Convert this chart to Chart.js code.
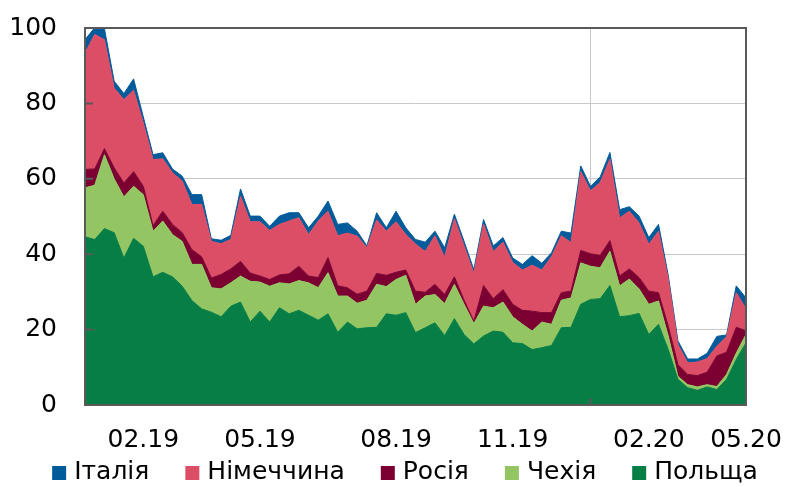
<!DOCTYPE html>
<html>
<head>
<meta charset="utf-8">
<script src="https://cdn.jsdelivr.net/npm/chart.js@4.4.1/dist/chart.umd.min.js"></script>
<style>
  body { margin: 0; background: #fff; }
  #wrap { width: 787px; height: 487px; }
</style>
</head>
<body>
<div id="wrap"><canvas id="myChart" width="787" height="487"></canvas></div>
<script>
// weekly shares, %, stacked from the bottom: Польща, Чехія, Росія, Німеччина, Італія
const poland = [44.6, 43.9, 46.8, 45.7, 39.0, 44.2, 42.1, 34.0, 35.2, 34.0,
  31.5, 27.7, 25.5, 24.6, 23.4, 26.2, 27.3, 22.0, 24.9, 22.0,
  25.8, 24.2, 25.1, 23.8, 22.5, 24.2, 19.3, 22.0, 20.2, 20.5,
  20.6, 24.2, 23.8, 24.5, 19.2, 20.5, 21.8, 18.4, 22.9, 18.7,
  16.2, 18.3, 19.6, 19.3, 16.5, 16.3, 14.7, 15.2, 15.8, 20.5,
  20.6, 26.7, 28.0, 28.2, 31.7, 23.4, 23.7, 24.3, 18.7, 21.4,
  14.7, 6.8, 4.6, 3.9, 4.8, 4.1, 6.8, 12.1, 16.5];
const czechia = [13.0, 14.4, 19.6, 14.3, 16.2, 13.8, 13.7, 12.1, 13.6, 11.2,
  11.9, 9.6, 11.8, 6.5, 7.4, 6.2, 6.9, 10.8, 7.7, 9.5,
  6.6, 7.9, 7.9, 8.6, 8.6, 10.9, 9.6, 6.9, 6.8, 7.3,
  11.4, 7.2, 9.5, 9.9, 7.5, 8.4, 7.5, 8.5, 9.1, 8.0,
  5.4, 7.9, 6.2, 8.0, 6.9, 5.1, 4.9, 6.8, 5.6, 7.3,
  7.8, 11.0, 8.8, 8.2, 9.1, 8.2, 9.7, 6.5, 8.0, 6.2,
  3.6, 0.8, 0.8, 0.9, 0.6, 0.8, 1.3, 1.7, 2.2];
const russia = [4.9, 4.3, 1.6, 2.9, 3.7, 3.9, 2.2, 1.5, 2.6, 2.7,
  2.3, 3.9, 2.0, 2.6, 3.8, 3.7, 3.9, 2.2, 1.6, 1.8,
  2.1, 2.7, 3.8, 1.8, 2.7, 4.0, 2.7, 2.2, 2.4, 2.4,
  2.9, 3.0, 1.9, 1.4, 3.5, 1.0, 2.7, 2.4, 2.0, 1.1,
  0.6, 5.5, 2.4, 3.3, 3.3, 3.7, 5.3, 2.5, 3.1, 2.0,
  1.8, 3.3, 3.3, 3.3, 2.8, 2.6, 2.7, 3.0, 3.5, 2.2,
  2.6, 3.1, 2.7, 3.0, 3.3, 8.1, 5.9, 6.8, 1.0];
const germany = [30.9, 35.7, 28.9, 21.2, 22.1, 21.6, 16.8, 17.5, 13.9, 13.7,
  13.7, 12.0, 13.9, 9.7, 8.2, 7.8, 17.3, 13.6, 14.4, 13.0,
  13.4, 14.0, 12.9, 11.0, 15.0, 12.3, 13.3, 14.5, 15.4, 11.5,
  14.2, 11.7, 13.4, 9.4, 12.5, 10.8, 12.9, 9.9, 15.4, 14.4,
  12.7, 16.3, 12.5, 12.6, 11.1, 10.7, 12.2, 11.3, 14.9, 15.1,
  12.9, 20.9, 16.7, 19.3, 21.6, 15.4, 15.3, 14.5, 12.4, 16.3,
  12.5, 5.3, 3.1, 3.6, 3.6, 2.6, 4.1, 9.2, 5.8];
const italy = [3.5, 1.8, 2.9, 1.8, 1.6, 3.0, 1.6, 1.3, 1.6, 1.0,
  1.3, 2.6, 2.6, 0.7, 0.9, 1.1, 1.9, 1.5, 1.5, 1.1,
  2.2, 2.2, 1.3, 1.8, 1.3, 2.7, 3.0, 2.7, 1.3, 0.5,
  1.9, 0.9, 2.8, 1.8, 1.2, 2.5, 1.2, 2.5, 1.2, 1.2,
  1.0, 1.2, 1.5, 1.2, 1.2, 1.5, 2.5, 1.8, 1.0, 1.2,
  2.5, 1.5, 1.2, 1.5, 1.8, 2.2, 1.2, 1.8, 1.8, 1.8,
  1.0, 1.0, 1.0, 0.8, 1.4, 2.6, 0.5, 1.8, 2.9];

// month labels and the week each one sits on
const monthLabels = ["02.19", "05.19", "08.19", "11.19", "02.20", "05.20"];
const monthWeeks = [6, 18, 32, 44, 58, 68];
const yearBreak = 52; // first week of 2020
const yTicks = [0, 20, 40, 60, 80, 100];

const weeks = poland.map((_, i) => {
  const k = monthWeeks.indexOf(i);
  return k >= 0 ? monthLabels[k] : "";
});

const axisGrey = "#595959";
const gridGrey = "#c8c8c8";
const fontFamily = '"DejaVu Sans", sans-serif';

Chart.defaults.font.family = fontFamily;
Chart.defaults.color = "#000";

const series = [
  { label: "Польща", data: poland, color: "#067e45" },
  { label: "Чехія", data: czechia, color: "#93c663" },
  { label: "Росія", data: russia, color: "#7b0031" },
  { label: "Німеччина", data: germany, color: "#dc4e66" },
  { label: "Італія", data: italy, color: "#005b9a" },
];

// box around the plot plus the short inward ticks
const framePlugin = {
  id: "frame",
  afterDatasetsDraw(chart) {
    const { ctx, chartArea: a, scales: { x, y } } = chart;
    ctx.save();
    ctx.strokeStyle = axisGrey;
    ctx.lineWidth = 2;
    ctx.beginPath();
    ctx.rect(a.left, a.top, a.right - a.left, a.bottom - a.top);
    yTicks.slice(1, -1).forEach(v => {
      const py = y.getPixelForValue(v);
      ctx.moveTo(a.left, py);
      ctx.lineTo(a.left + 8, py);
    });
    const px = x.getPixelForValue(yearBreak);
    ctx.moveTo(px, a.bottom);
    ctx.lineTo(px, a.bottom - 7);
    ctx.stroke();
    ctx.restore();
  }
};

// one-row legend under the axis labels, top series first
const legendRow = {
  id: "legendRow",
  afterDraw(chart) {
    const ctx = chart.ctx;
    const items = chart.data.datasets.slice().reverse();
    const box = 14, gap = 8, spacing = 36;
    ctx.save();
    ctx.font = "25px " + fontFamily;
    ctx.textBaseline = "middle";
    const widths = items.map(d => box + gap + ctx.measureText(d.label).width);
    const total = widths.reduce((s, w) => s + w, 0) + spacing * (items.length - 1);
    let x = 405 - total / 2;
    const yMid = 472;
    items.forEach((d, i) => {
      ctx.fillStyle = d.backgroundColor;
      ctx.fillRect(x, yMid - box / 2 + 1, box, box);
      ctx.fillStyle = "#000";
      ctx.fillText(d.label, x + box + gap, yMid);
      x += widths[i] + spacing;
    });
    ctx.restore();
  }
};

const ctx = document.getElementById("myChart").getContext("2d");
const myChart = new Chart(ctx, {
  type: "line",
  data: {
    labels: weeks,
    datasets: series.map((s, i) => ({
      label: s.label,
      data: s.data,
      backgroundColor: s.color,
      borderColor: s.color,
      borderWidth: 1,
      pointRadius: 0,
      tension: 0,
      fill: i === 0 ? "origin" : "-1",
    })),
  },
  options: {
    responsive: false,
    devicePixelRatio: 1,
    animation: false,
    layout: { padding: { left: 0, right: 0, top: 28, bottom: 32 } },
    scales: {
      x: {
        grid: {
          drawTicks: false,
          color: c => (c.index === yearBreak ? gridGrey : "rgba(0,0,0,0)"),
        },
        border: { display: false },
        ticks: {
          autoSkip: false,
          maxRotation: 0,
          padding: 20,
          font: { size: 25 },
          callback: (v, i) => weeks[i],
        },
        afterFit: scale => {
          scale.paddingRight = 41;
          scale.height = 50;
        },
      },
      y: {
        stacked: true,
        min: 0,
        max: 100,
        afterBuildTicks: scale => { scale.ticks = yTicks.map(v => ({ value: v })); },
        grid: {
          drawTicks: false,
          color: c => (c.tick && c.tick.value > 0 && c.tick.value < 100 ? gridGrey : "rgba(0,0,0,0)"),
        },
        border: { display: false },
        ticks: { padding: 28, font: { size: 25 } },
        afterFit: scale => {
          scale.width = 85;
          scale.paddingTop = 15;
          scale.paddingBottom = 15;
        },
      },
    },
    plugins: {
      legend: { display: false },
      tooltip: { enabled: false },
    },
  },
  plugins: [framePlugin, legendRow],
});
</script>
</body>
</html>
